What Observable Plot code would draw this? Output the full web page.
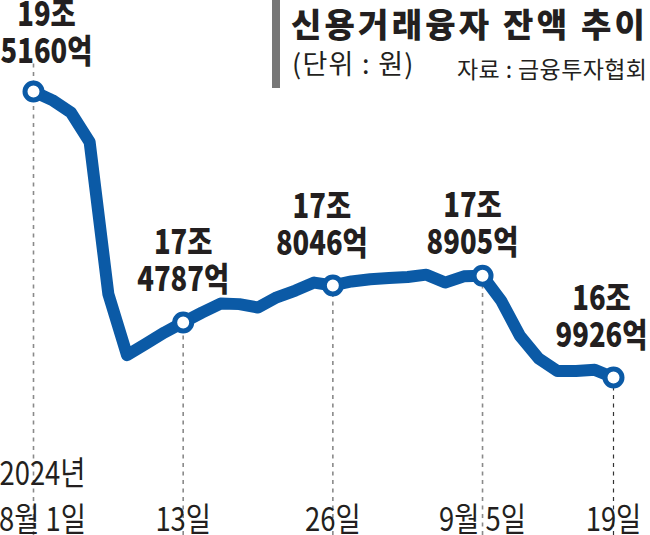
<!DOCTYPE html>
<html><head><meta charset="utf-8">
<script src="https://cdn.jsdelivr.net/npm/d3@7"></script>
<script src="https://cdn.jsdelivr.net/npm/@observablehq/plot@0.6"></script>
<style>
body{margin:0;background:#fff;}
#wrap{position:relative;width:650px;height:535px;overflow:hidden;font-family:"Noto Sans CJK KR",sans-serif;}
#bar{position:absolute;left:272px;top:0;width:8px;height:88px;background:#777;}
#title{position:absolute;left:291px;top:-1px;font-size:33px;font-weight:900;color:#231f20;white-space:nowrap;letter-spacing:3.2px;}
#unit{position:absolute;left:292px;top:43px;font-size:27px;color:#231f20;white-space:nowrap;letter-spacing:1.3px;}
#src{position:absolute;left:457px;top:51px;font-size:23px;color:#231f20;white-space:nowrap;letter-spacing:0.4px;}
#chart{position:absolute;left:0;top:0;}
</style></head>
<body>
<div id="wrap">
<div id="chart"></div>
<div id="bar"></div>
<div id="title">신용거래융자 잔액 추이</div>
<div id="unit">(단위 : 원)</div>
<div id="src">자료 : 금융투자협회</div>
</div>
<script>
// trading days, 2024
const dates = ["8/1","8/2","8/5","8/6","8/7","8/8","8/9","8/12","8/13","8/14","8/16","8/19","8/20","8/21","8/22","8/23","8/26","8/27","8/28","8/29","8/30","9/2","9/3","9/4","9/5","9/6","9/9","9/10","9/11","9/12","9/13","9/19"];
// balance, 조원
const values = [19.516,19.44,19.33,19.07,17.73,17.19,17.29,17.39,17.4787,17.565,17.645,17.64,17.61,17.70,17.76,17.83,17.8046,17.84,17.86,17.87,17.88,17.90,17.83,17.885,17.8905,17.67,17.36,17.16,17.05,17.05,17.06,16.9926];
const labelDates = ["8/1","8/13","8/26","9/5","9/19"];
const labelTexts = ["19조\n5160억","17조\n4787억","17조\n8046억","17조\n8905억","16조\n9926억"];
const tickLabels = ["2024년\n8월 1일","13일","26일","9월 5일","19일"];

const rows = dates.map((d, i) => ({i, date: d, value: values[i]}));
const labelRows = labelDates.map((d, k) => {
  const i = dates.indexOf(d);
  return {i, value: values[i], label: labelTexts[k], tick: tickLabels[k], k};
});
// label offsets (style)
const offs = [[13,-59],[0,-62],[-11,-61],[-10,-52],[-12,-61]];

const blue = "#0b5aa6";
const font = '"Noto Sans CJK KR",sans-serif';

const labelMarks = labelRows.map((r, k) => Plot.text([r], {
  x: "i", y: "value", text: "label", dx: offs[k][0], dy: offs[k][1],
  fontSize: 33, fontWeight: 900, fontFamily: font, lineHeight: 1.12,
  lineAnchor: "middle", textAnchor: "middle", fill: "#231f20"
}));
const tickStyle = {x: "i", text: "tick", frameAnchor: "bottom", lineAnchor: "bottom", dy: 36,
  fontSize: 33, fontFamily: font, lineHeight: 1.39, textAnchor: "middle", fill: "#231f20"};

const chart = Plot.plot({
  width: 650, height: 535,
  marginTop: 0, marginLeft: 0, marginRight: 0, marginBottom: 41,
  x: {domain: [0, 31], range: [33, 613], axis: null},
  y: {domain: [16.9926, 19.516], range: [377, 91], axis: null},
  style: {background: "transparent", overflow: "visible"},
  marks: [
    Plot.ruleX(labelRows.slice(0,1), {x: "i", y1: "value", stroke: "#8a8a8a", strokeWidth: 1.6, strokeDasharray: "4,4.5", insetBottom: 31}),
    Plot.ruleX(labelRows.slice(1,4), {x: "i", y1: "value", stroke: "#8a8a8a", strokeWidth: 1.6, strokeDasharray: "4,4.5"}),
    Plot.ruleX(labelRows.slice(4), {x: "i", y1: "value", stroke: "#333", strokeWidth: 1.2, strokeDasharray: "4,4.5"}),
    Plot.line(rows, {x: "i", y: "value", stroke: blue, strokeWidth: 12, strokeLinejoin: "round", strokeLinecap: "round"}),
    Plot.dot(labelRows, {x: "i", y: "value", r: 8.5, fill: "white", stroke: blue, strokeWidth: 5}),
    ...labelMarks,
    Plot.text(labelRows.slice(0,1), {...tickStyle, dx: 9}),
    Plot.text(labelRows.slice(1), tickStyle)
  ]
});
// condense all chart texts horizontally around their anchor point
d3.select(chart).selectAll("text").each(function() {
  const t = this.getAttribute("transform") || "";
  this.setAttribute("transform", t + " scale(0.83,1)");
});
document.getElementById("chart").appendChild(chart);
</script>
</body></html>
